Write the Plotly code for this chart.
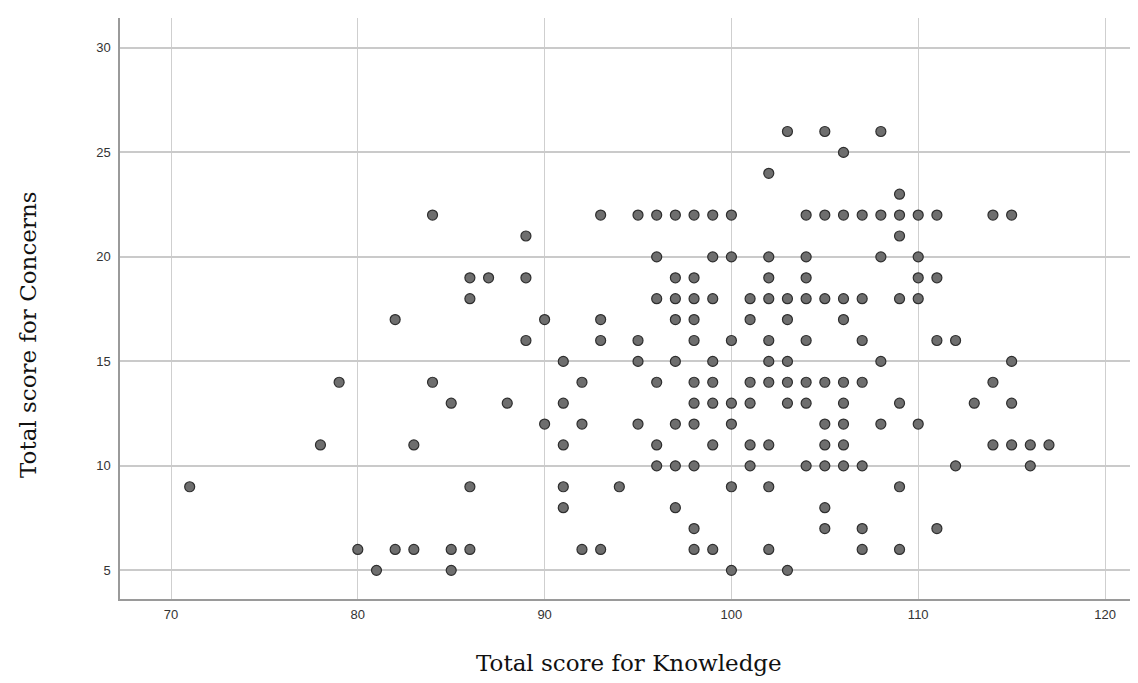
import plotly.graph_objects as go

# Scores, grouped by Concerns value
rows = {
    26: [103, 105, 108],
    25: [106],
    24: [102],
    23: [109],
    22: [84, 93, 95, 96, 97, 98, 99, 100, 104, 105, 106, 107, 108, 109, 110, 111, 114, 115],
    21: [89, 109],
    20: [96, 99, 100, 102, 104, 108, 110],
    19: [86, 87, 89, 97, 98, 102, 104, 110, 111],
    18: [86, 96, 97, 98, 99, 101, 102, 103, 104, 105, 106, 107, 109, 110],
    17: [82, 90, 93, 97, 98, 101, 103, 106],
    16: [89, 93, 95, 98, 100, 102, 104, 107, 111, 112],
    15: [91, 95, 97, 99, 102, 103, 108, 115],
    14: [79, 84, 92, 96, 98, 99, 101, 102, 103, 104, 105, 106, 107, 114],
    13: [85, 88, 91, 98, 99, 100, 101, 103, 104, 106, 109, 113, 115],
    12: [90, 92, 95, 97, 98, 100, 105, 106, 108, 110],
    11: [78, 83, 91, 96, 99, 101, 102, 105, 106, 114, 115, 116, 117],
    10: [96, 97, 98, 101, 104, 105, 106, 107, 112, 116],
    9: [71, 86, 91, 94, 100, 102, 109],
    8: [91, 97, 105],
    7: [98, 105, 107, 111],
    6: [80, 82, 83, 85, 86, 92, 93, 98, 99, 102, 107, 109],
    5: [81, 85, 100, 103],
}

knowledge = []
concerns = []
for c, ks in rows.items():
    for k in ks:
        knowledge.append(k)
        concerns.append(c)

x_ticks = [70, 80, 90, 100, 110, 120]
y_ticks = [5, 10, 15, 20, 25, 30]
x_title = "Total score for Knowledge"
y_title = "Total score for Concerns"

fig = go.Figure()
fig.add_trace(go.Scatter(
    x=knowledge, y=concerns, mode="markers",
    marker=dict(size=10, color="#6e6e6e", line=dict(color="#2e2e2e", width=1.2)),
    showlegend=False, hoverinfo="x+y",
))

W, H = 1138, 683
L, R, T, B = 112, 1, 10, 92
pw, ph = W - L - R, H - T - B

fig.update_layout(
    width=W, height=H,
    margin=dict(l=L, r=R, t=T, b=B),
    paper_bgcolor="white", plot_bgcolor="white",
    font=dict(family="Liberation Sans, Arial", size=13, color="#333333"),
)
fig.update_xaxes(
    range=[67.27, 122.14], tickvals=x_ticks, ticks="",
    showgrid=True, gridcolor="#cfcfcf", gridwidth=1,
    showline=True, linecolor="#9a9a9a", linewidth=2,
    zeroline=False, ticklabelstandoff=2,
)
fig.update_yaxes(
    range=[3.63, 31.43], tickvals=y_ticks, ticks="",
    showgrid=True, gridcolor="#cacaca", gridwidth=1.5,
    showline=True, linecolor="#9a9a9a", linewidth=1.5,
    zeroline=False, ticklabelstandoff=5,
)

fig.add_annotation(
    text=x_title, xref="paper", yref="paper",
    x=(621 - L) / pw, y=(H - B - 655) / ph,
    xanchor="center", yanchor="middle", showarrow=False,
    font=dict(family="DejaVu Serif", size=23, color="#111111"),
)
fig.add_annotation(
    text=y_title, xref="paper", yref="paper",
    x=(20 - L) / pw, y=(H - B - 327) / ph,
    xanchor="center", yanchor="middle", showarrow=False, textangle=-90,
    font=dict(family="DejaVu Serif", size=23, color="#111111"),
)

fig.write_html("out.html")
